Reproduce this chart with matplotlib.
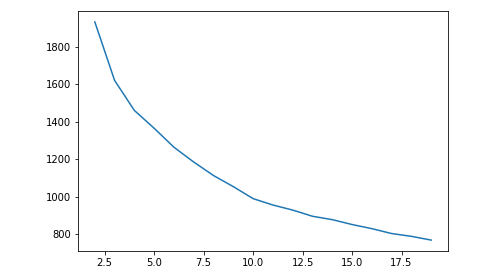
import matplotlib
matplotlib.use("Agg")
import matplotlib.pyplot as plt

# Values
k_values = [2, 3, 4, 5, 6, 7, 8, 9, 10, 11, 12, 13, 14, 15, 16, 17, 18, 19]
scores = [1932, 1620, 1460, 1365, 1264, 1185, 1113, 1054, 990,
          956, 929, 896, 878, 852, 830, 804, 789, 769]


def main():
    dpi = 72
    fig = plt.figure(figsize=(482 / dpi, 280 / dpi), dpi=dpi)
    ax = fig.add_axes([78 / 482, 29 / 280, 370 / 482, 240 / 280])
    ax.plot(k_values, scores)
    fig.savefig("out.png", dpi=dpi)


if __name__ == "__main__":
    main()
